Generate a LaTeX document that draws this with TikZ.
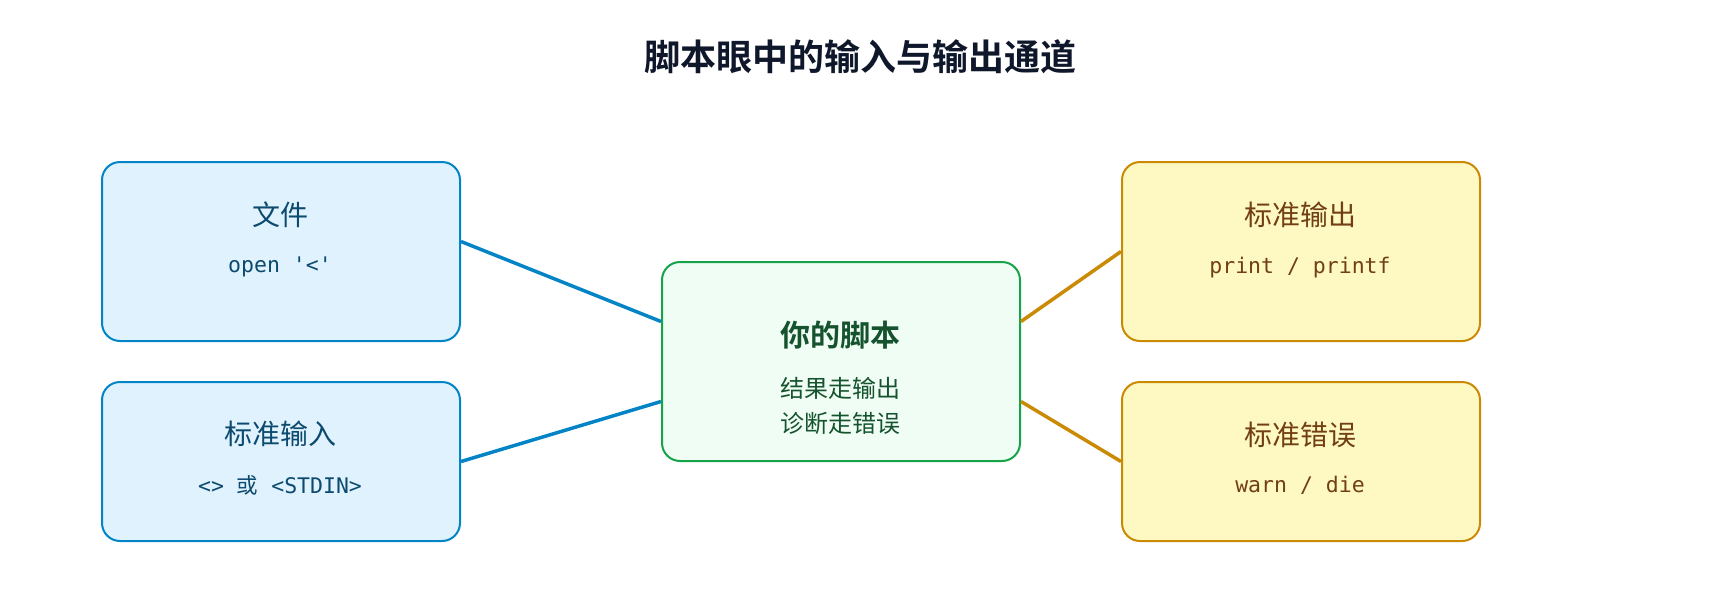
\documentclass[tikz,border=0pt]{standalone}
\usepackage{fontspec}
\setmainfont{Noto Sans CJK SC}
\newfontfamily\cjk{Noto Sans CJK SC}
\newfontfamily\cjkbold{Noto Sans CJK SC Bold}
\newfontfamily\monof{DejaVu Sans Mono}
\definecolor{blueline}{HTML}{0284C7}
\definecolor{bluefill}{HTML}{E0F2FE}
\definecolor{bluetext}{HTML}{0C4A6E}
\definecolor{greenline}{HTML}{16A34A}
\definecolor{greenfill}{HTML}{F0FDF4}
\definecolor{greentext}{HTML}{14532D}
\definecolor{amberline}{HTML}{CA8A04}
\definecolor{amberfill}{HTML}{FEF9C3}
\definecolor{ambertext}{HTML}{713F12}
\definecolor{titlecol}{HTML}{0F172A}
\tikzset{
  boxbase/.style={draw, rounded corners=18pt, line width=2pt, inner sep=0pt, minimum width=358pt, anchor=north west},
  inbox/.style={boxbase, draw=blueline, fill=bluefill},
  outbox/.style={boxbase, draw=amberline, fill=amberfill},
  scriptbox/.style={boxbase, draw=greenline, fill=greenfill},
  lbl/.style={anchor=base, inner sep=0pt, font=\cjk\fontsize{28}{32}\selectfont},
  codelbl/.style={anchor=base, inner sep=0pt, font=\monof\fontsize{21.5}{25}\selectfont},
  inlink/.style={draw=blueline, line width=3.5pt},
  outlink/.style={draw=amberline, line width=3.5pt},
}
\begin{document}
\begin{tikzpicture}[x=1pt,y=-1pt]
\useasboundingbox (0,0) rectangle (1720,600);
\node[anchor=base, inner sep=0pt, text=titlecol, font=\cjkbold\fontsize{36}{40}\selectfont] (title) at (860,70) {脚本眼中的输入与输出通道};

\node[inbox, minimum height=179pt] (file) at (101,161) {};
\node[inbox, minimum height=159pt] (stdin) at (101,381) {};
\node[scriptbox, minimum height=199pt] (script) at (661,261) {};
\node[outbox, minimum height=179pt] (stdout) at (1121,161) {};
\node[outbox, minimum height=159pt] (stderr) at (1121,381) {};

\draw[inlink] ([yshift=10pt]file.east) -- ([yshift=40pt]script.west);
\draw[inlink] (stdin.east) -- ([yshift=-40pt]script.west);
\draw[outlink] ([yshift=40pt]script.east) -- (stdout.west);
\draw[outlink] ([yshift=-40pt]script.east) -- (stderr.west);

\node[lbl, text=bluetext] (filet) at (280,225) {文件};
\node[codelbl, text=bluetext] (filec) at (280,272) {open '<'};
\node[lbl, text=bluetext] (stdint) at (280,444) {标准输入};
\node[codelbl, text=bluetext] (stdinc) at (280,493) {<> {\cjk 或} <STDIN>};

\node[anchor=base, inner sep=0pt, text=greentext, font=\cjkbold\fontsize{30}{36}\selectfont] (scriptt) at (840,346) {你的脚本};
\node[anchor=base, inner sep=0pt, text=greentext, font=\cjk\fontsize{24}{28}\selectfont] (scriptl1) at (840,397) {结果走输出};
\node[anchor=base, inner sep=0pt, text=greentext, font=\cjk\fontsize{24}{28}\selectfont] (scriptl2) at (840,432) {诊断走错误};

\node[lbl, text=ambertext] (stdoutt) at (1300,225) {标准输出};
\node[codelbl, text=ambertext] (stdoutc) at (1300,273) {print / printf};
\node[lbl, text=ambertext] (stderrt) at (1300,445) {标准错误};
\node[codelbl, text=ambertext] (stderrc) at (1300,492) {warn / die};
\end{tikzpicture}
\end{document}
